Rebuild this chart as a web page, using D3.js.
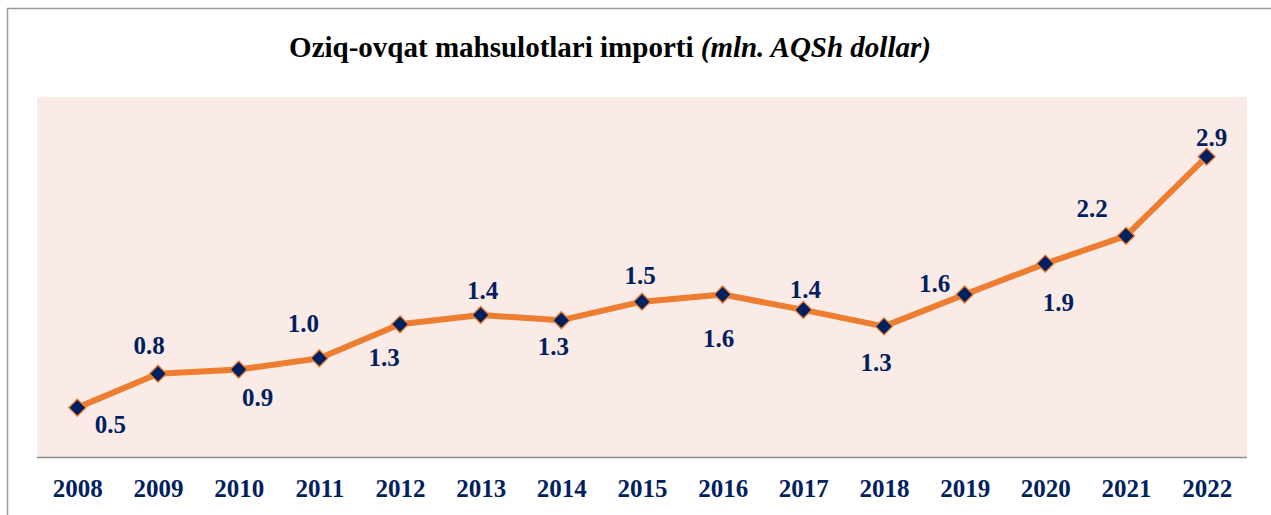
<!DOCTYPE html>
<html>
<head>
<meta charset="utf-8">
<script src="https://cdn.jsdelivr.net/npm/d3@7"></script>
<style>
    html, body { margin: 0; padding: 0; background: #fff; }
    svg { display: block; font-family: "Liberation Serif", "Times New Roman", serif; }
</style>
</head>
<body>
<div id="chart"></div>
<script>
// ===== Data =====
const years = ['2008', '2009', '2010', '2011', '2012', '2013', '2014', '2015',
    '2016', '2017', '2018', '2019', '2020', '2021', '2022'];
const importValues = [0.48, 0.81, 0.85, 0.96, 1.29, 1.38, 1.33, 1.51,
    1.58, 1.43, 1.27, 1.58, 1.88, 2.15, 2.92];
const valueLabels = ['0.5', '0.8', '0.9', '1.0', '1.3', '1.4', '1.3', '1.5',
    '1.6', '1.4', '1.3', '1.6', '1.9', '2.2', '2.9'];

// label offsets relative to the marker (dx to centre, dy to baseline)
const labelOffsets = [
    [33, 25], [-9, -20], [19, 36], [-16, -26], [-16, 42], [2, -16], [-8, 35], [-2, -18],
    [-4, 53], [2, -12], [-8, 45], [-30, -2], [13, 47], [-34, -19], [5, -11]
];

// ===== Config =====
const CONFIG = {
    width: 1271,
    height: 515,
    plot: { left: 37, right: 1247, top: 97, bottom: 457 },
    colors: {
        text: '#002060',
        line: '#ED7D31',
        marker: '#002060',
        plotBg: '#FAEBE7',
        frame: '#9a9a9a',
        axis: '#8c8c8c'
    }
};

const svg = d3.select('#chart').append('svg')
    .attr('width', CONFIG.width)
    .attr('height', CONFIG.height);

// outer frame (left + top edges visible)
svg.append('path')
    .attr('d', `M7.5,${CONFIG.height} V8.5 H${CONFIG.width}`)
    .attr('fill', 'none')
    .attr('stroke', CONFIG.colors.frame)
    .attr('stroke-width', 1.5);

// title
const title = svg.append('text')
    .attr('x', 610)
    .attr('y', 57)
    .attr('text-anchor', 'middle')
    .style('font-size', '29px')
    .style('font-weight', 'bold')
    .attr('fill', '#000');
title.append('tspan').text('Oziq-ovqat mahsulotlari importi ');
title.append('tspan').style('font-style', 'italic').text('(mln. AQSh dollar)');

// ===== Scales =====
const p = CONFIG.plot;
const x = d3.scalePoint()
    .domain(years)
    .range([p.left, p.right])
    .padding(0.5);

const y = d3.scaleLinear()
    .domain([0, 3.5])
    .range([p.bottom, p.top]);

// plot background
svg.append('rect')
    .attr('x', p.left)
    .attr('y', p.top)
    .attr('width', p.right - p.left)
    .attr('height', p.bottom - p.top)
    .attr('fill', CONFIG.colors.plotBg);

// x axis
const xAxis = svg.append('g')
    .attr('transform', `translate(0,${p.bottom})`)
    .call(d3.axisBottom(x).tickSize(0).tickPadding(22));
xAxis.select('.domain')
    .attr('d', `M${p.left},0.5H${p.right}`)
    .attr('stroke', CONFIG.colors.axis)
    .attr('stroke-width', 1.5);
xAxis.selectAll('text')
    .attr('fill', CONFIG.colors.text)
    .style('font-family', '"Liberation Serif", "Times New Roman", serif')
    .style('font-size', '25px')
    .style('font-weight', 'bold');

// ===== Line & markers =====
const data = years.map((yr, i) => ({ year: yr, value: importValues[i], label: valueLabels[i], off: labelOffsets[i] }));

svg.append('path')
    .datum(data)
    .attr('fill', 'none')
    .attr('stroke', CONFIG.colors.line)
    .attr('stroke-width', 6)
    .attr('stroke-linejoin', 'round')
    .attr('d', d3.line().x(d => x(d.year)).y(d => y(d.value)));

svg.selectAll('.marker')
    .data(data)
    .enter()
    .append('path')
    .attr('class', 'marker')
    .attr('transform', d => `translate(${x(d.year)},${y(d.value)})`)
    .attr('d', d3.symbol().type(d3.symbolDiamond2).size(185))
    .attr('fill', CONFIG.colors.marker)
    .attr('stroke', CONFIG.colors.line)
    .attr('stroke-width', 1.3);

svg.selectAll('.value-label')
    .data(data)
    .enter()
    .append('text')
    .attr('class', 'value-label')
    .attr('x', d => x(d.year) + d.off[0])
    .attr('y', d => y(d.value) + d.off[1])
    .attr('text-anchor', 'middle')
    .attr('fill', CONFIG.colors.text)
    .style('font-size', '25px')
    .style('font-weight', 'bold')
    .text(d => d.label);
</script>
</body>
</html>
